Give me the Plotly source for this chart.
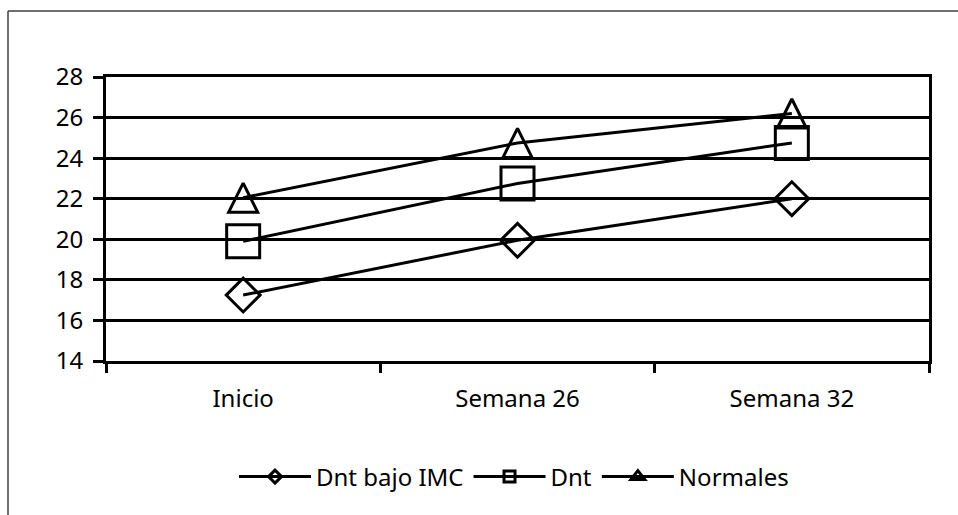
import plotly.graph_objects as go

categories = ["Inicio", "Semana 26", "Semana 32"]
dnt_bajo_imc = [17.25, 19.95, 22.0]
dnt = [19.9, 22.75, 24.75]
normales = [22.05, 24.75, 26.2]
series_names = ["Dnt bajo IMC", "Dnt", "Normales"]
y_ticks = [14, 16, 18, 20, 22, 24, 26, 28]

FONT = "Noto Sans"

fig = go.Figure()
fig.add_trace(go.Scatter(
    x=categories, y=dnt_bajo_imc, name=series_names[0], mode="lines+markers",
    legendgroup="a", showlegend=False,
    line=dict(color="black", width=3),
    marker=dict(symbol="diamond-open", size=26, color="black", line=dict(width=3, color="black")),
))
fig.add_trace(go.Scatter(
    x=categories, y=dnt, name=series_names[1], mode="lines+markers",
    legendgroup="b", showlegend=False,
    line=dict(color="black", width=3),
    marker=dict(symbol="square-open", size=33, color="black", line=dict(width=3, color="black")),
))
fig.add_trace(go.Scatter(
    x=categories, y=normales, name=series_names[2], mode="lines+markers",
    legendgroup="c", showlegend=False,
    line=dict(color="black", width=3, backoff=0),
    marker=dict(symbol="arrow-down-open", size=29, angle=180, standoff=14.5,
                color="black", line=dict(width=3, color="black")),
))

# legend entries (same series, small legend symbols)
legend_symbols = ["diamond-open", "square-open", "triangle-up-open"]
legend_sizes = [10, 11, 12]
for name, grp, sym, sz in zip(series_names, ["a", "b", "c"], legend_symbols, legend_sizes):
    fig.add_trace(go.Scatter(
        x=[None], y=[None], name=name, mode="lines+markers", legendgroup=grp,
        line=dict(color="black", width=3),
        marker=dict(symbol=sym, size=sz, color="black", line=dict(width=3, color="black")),
    ))

W, H = 958, 515
L, R, T, B = 106, 29, 77, 154
pw, ph = W - L - R, H - T - B

def px_x(x):
    return (x - L) / pw

def px_y(y):
    return (H - B - y) / ph

fig.update_layout(
    width=W, height=H,
    margin=dict(l=L, r=R, t=T, b=B),
    paper_bgcolor="white", plot_bgcolor="white",
    font=dict(family=FONT, size=24, color="black"),
    showlegend=True,
    legend=dict(orientation="h", x=px_x(514), xanchor="center", y=px_y(477), yanchor="middle",
                font=dict(family=FONT, size=24, color="black"), itemsizing="trace",
                itemwidth=72, bgcolor="rgba(0,0,0,0)"),
    xaxis=dict(
        type="category", range=[-0.5, 2.5], showgrid=False, zeroline=False,
        showline=True, linecolor="black", linewidth=3, mirror=True,
        ticks="outside", tickson="boundaries", ticklen=9, tickwidth=2.5, tickcolor="black",
        ticklabelstandoff=14,
    ),
    yaxis=dict(
        range=[14, 28], tickvals=y_ticks, showgrid=True, gridcolor="black", gridwidth=2.5,
        zeroline=False, showline=True, linecolor="black", linewidth=3, mirror=True,
        ticks="outside", ticklen=10, tickwidth=2.5, tickcolor="black",
        ticklabelstandoff=5,
    ),
    shapes=[
        dict(type="line", xref="paper", yref="paper", x0=px_x(8), y0=px_y(11), x1=px_x(970), y1=px_y(11),
             line=dict(color="#404040", width=1.5)),
        dict(type="line", xref="paper", yref="paper", x0=px_x(8), y0=px_y(11), x1=px_x(8), y1=px_y(530),
             line=dict(color="#404040", width=1.5)),
    ],
)

fig.write_html("out.html")
